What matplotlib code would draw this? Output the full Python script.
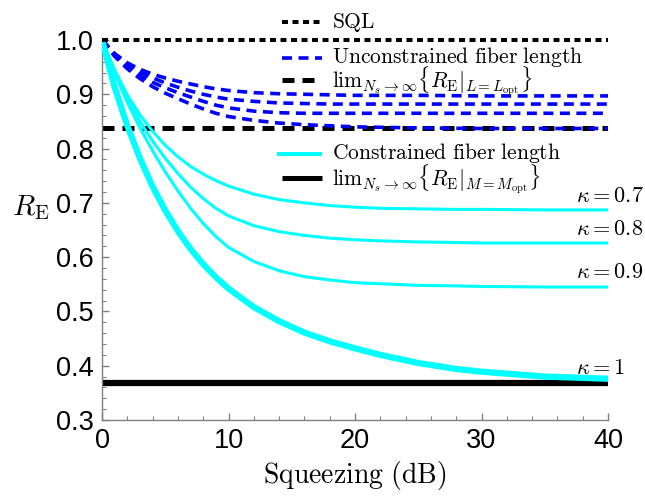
import matplotlib
matplotlib.use('Agg')
import matplotlib.pyplot as plt
from matplotlib.lines import Line2D

plt.rcParams['mathtext.fontset'] = 'cm'
plt.rcParams['lines.scale_dashes'] = False
plt.rcParams['font.family'] = ['Liberation Sans', 'DejaVu Sans']

# ---- data ----
sqz_c = [0, 1, 2, 3, 4, 5, 6, 7, 8, 9, 10, 12, 14, 16, 18, 20, 22, 25, 28, 30, 35, 40]
con_k07 = [1.0, 0.945, 0.899, 0.862, 0.832, 0.806, 0.785, 0.767, 0.753, 0.741, 0.731, 0.716, 0.706, 0.700, 0.695, 0.692, 0.690, 0.689, 0.688, 0.688, 0.687, 0.687]
con_k08 = [1.0, 0.942, 0.892, 0.850, 0.814, 0.782, 0.754, 0.729, 0.708, 0.690, 0.676, 0.658, 0.647, 0.640, 0.635, 0.632, 0.630, 0.628, 0.627, 0.626, 0.626, 0.626]
con_k09 = [1.0, 0.94, 0.885, 0.838, 0.796, 0.757, 0.722, 0.690, 0.662, 0.638, 0.618, 0.592, 0.575, 0.564, 0.558, 0.553, 0.551, 0.548, 0.547, 0.546, 0.545, 0.545]
con_k10 = [1.0, 0.913, 0.842, 0.782, 0.730, 0.686, 0.648, 0.615, 0.587, 0.563, 0.542, 0.508, 0.482, 0.461, 0.445, 0.432, 0.420, 0.405, 0.394, 0.389, 0.380, 0.376]

sqz_u = [0, 1, 2, 3, 4, 5, 6, 7, 8, 9, 10, 12, 14, 16, 18, 20, 25, 30, 35, 40]
unc_1 = [1.0, 0.975, 0.958, 0.946, 0.937, 0.930, 0.924, 0.919, 0.914, 0.910, 0.907, 0.903, 0.901, 0.900, 0.899, 0.898, 0.898, 0.897, 0.897, 0.897]
unc_2 = [1.0, 0.974, 0.955, 0.941, 0.930, 0.921, 0.913, 0.906, 0.900, 0.895, 0.891, 0.887, 0.884, 0.883, 0.882, 0.882, 0.882, 0.882, 0.882, 0.882]
unc_3 = [1.0, 0.972, 0.951, 0.935, 0.922, 0.912, 0.903, 0.895, 0.887, 0.880, 0.875, 0.869, 0.866, 0.865, 0.865, 0.865, 0.865, 0.865, 0.865, 0.865]
unc_4 = [1.0, 0.970, 0.947, 0.929, 0.914, 0.902, 0.892, 0.882, 0.873, 0.865, 0.859, 0.852, 0.847, 0.844, 0.842, 0.840, 0.838, 0.837, 0.837, 0.837]

sql_level = 1.0
lim_L_level = 0.837
lim_M_level = 0.368
x_range = [0, 40]

kappa_labels = [r'$\kappa = 0.7$', r'$\kappa = 0.8$', r'$\kappa = 0.9$', r'$\kappa = 1$']

# ---- figure ----
W, H = 645, 497
fig = plt.figure(figsize=(W / 100, H / 100), dpi=100)
ax = fig.add_axes([102 / W, 1 - 420 / H, (608 - 102) / W, (420 - 40) / H])

def fx(x):
    return x / W

def fy(y):
    return 1 - y / H

cyan = '#00FFFF'
blue = '#0000FF'
sql_dash = (0, (6 * 0.72, 4.5 * 0.72))
blue_dash = (0, (10 * 0.72, 6.5 * 0.72))
black_dash = (0, (12 * 0.72, 8 * 0.72))

ax.plot(x_range, [lim_M_level] * 2, color='black', lw=4.5, solid_capstyle='butt', zorder=2)
ax.plot(x_range, [lim_L_level] * 2, color='black', lw=3.6, linestyle=black_dash, dash_capstyle='butt', zorder=2)

for ys in (unc_1, unc_2, unc_3, unc_4):
    ax.plot(sqz_u, ys, color=blue, lw=2.6, linestyle=blue_dash, dash_capstyle='butt', zorder=3)

for ys in (con_k07, con_k08, con_k09):
    ax.plot(sqz_c, ys, color=cyan, lw=2.2, zorder=4)
ax.plot(sqz_c, con_k10, color=cyan, lw=4.5, zorder=4)

ax.plot(x_range, [sql_level] * 2, color='black', lw=2.9, linestyle=sql_dash, dash_capstyle='butt', zorder=5, clip_on=False)

ax.set_xlim(0, 40)
ax.set_ylim(0.3, 1.0)
ax.set_xticks([0, 10, 20, 30, 40])
ax.set_xticks(range(0, 41, 2), minor=True)
ax.set_yticks([0.3, 0.4, 0.5, 0.6, 0.7, 0.8, 0.9, 1.0])
ax.set_yticks([0.3 + 0.02 * i for i in range(36)], minor=True)
ax.set_yticklabels(['0.3', '0.4', '0.5', '0.6', '0.7', '0.8', '0.9', '1.0'])
for s in ('top', 'right'):
    ax.spines[s].set_visible(False)
for s in ('left', 'bottom'):
    ax.spines[s].set_color('#808080')
    ax.spines[s].set_linewidth(1.0)
ax.tick_params(which='both', direction='in', color='#808080', labelsize=19.5)
ax.tick_params(which='major', length=5, width=1.0, pad=6)
ax.tick_params(which='minor', length=3, width=0.8)

fig.text(fx(31), fy(208), r'$R_{\mathrm{E}}$', fontsize=21, ha='center', va='center')
fig.text(fx(355), fy(476), r'$\mathrm{Squeezing\ (dB)}$', fontsize=20, ha='center', va='center')

# legend
leg_x0, leg_x1, txt_x = 282, 322, 332
entries = [
    (22, 22, dict(color='black', lw=2.9, linestyle=sql_dash, dash_capstyle='butt'), r'$\mathrm{SQL}$'),
    (58, 57, dict(color=blue, lw=2.6, linestyle=blue_dash, dash_capstyle='butt'), r'$\mathrm{Unconstrained\ fiber\ length}$'),
    (80, 81, dict(color='black', lw=3.6, linestyle=black_dash, dash_capstyle='butt'), r'$\mathrm{lim}_{N_s\rightarrow\infty}\{R_{\mathrm{E}}|_{L=L_{\mathrm{opt}}}\}$'),
    (154, 153, dict(color=cyan, lw=2.9, solid_capstyle='butt'), r'$\mathrm{Constrained\ fiber\ length}$'),
    (178, 179, dict(color='black', lw=3.6, solid_capstyle='butt'), r'$\mathrm{lim}_{N_s\rightarrow\infty}\{R_{\mathrm{E}}|_{M=M_{\mathrm{opt}}}\}$'),
]
for y, ty, style, label in entries:
    x0 = 277 if y == 154 else leg_x0
    fig.add_artist(Line2D([fx(x0), fx(leg_x1)], [fy(y), fy(y)], transform=fig.transFigure, **style))
    fig.text(fx(txt_x), fy(ty), label, fontsize=15.5, ha='left', va='center')

kappa_y = [197, 230, 273, 368]
for y, lab in zip(kappa_y, kappa_labels):
    fig.text(fx(576), fy(y), lab, fontsize=16, ha='left', va='center')

fig.savefig('out.png', dpi=100)
